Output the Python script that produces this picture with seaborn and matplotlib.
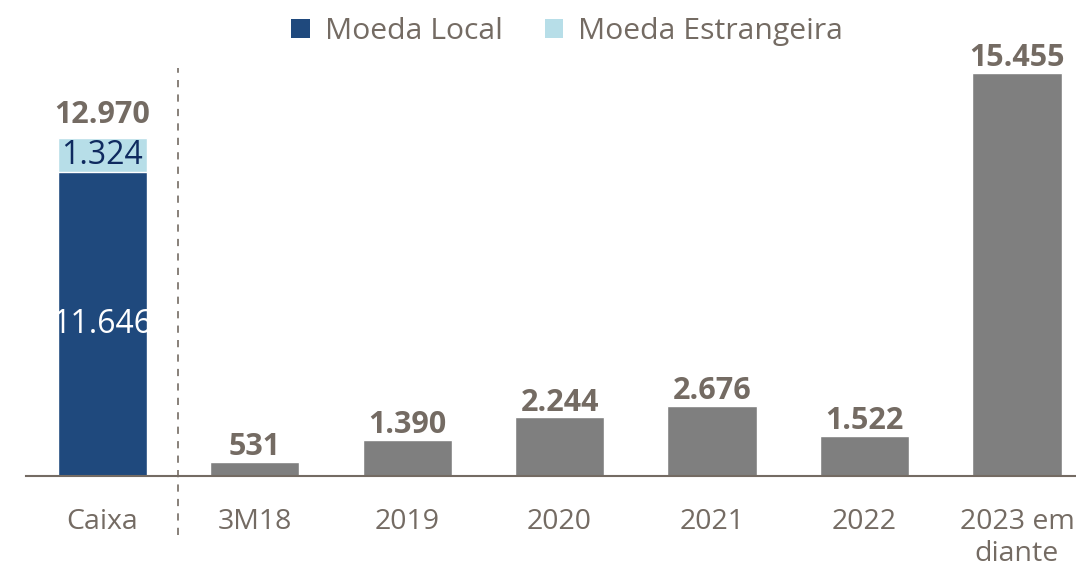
import matplotlib
matplotlib.use("Agg")
import matplotlib.pyplot as plt
from matplotlib.patches import Patch
import pandas as pd
import seaborn as sns

# dados (R$ milhões)
categorias = ["Caixa", "3M18", "2019", "2020", "2021", "2022", "2023 em\ndiante"]
totais = [12970, 531, 1390, 2244, 2676, 1522, 15455]
rotulos_totais = ["12.970", "531", "1.390", "2.244", "2.676", "1.522", "15.455"]
caixa_local = 11646
caixa_estrangeira = 1324
rotulo_local = "11.646"
rotulo_estrangeira = "1.324"
legenda = ["Moeda Local", "Moeda Estrangeira"]

AZUL = "#1F497D"
AZUL_CLARO = "#B7DEE8"
CINZA = "#7F7F7F"
TEXTO = "#746B63"

sns.set_style("white")
plt.rcParams["font.family"] = ["Open Sans", "DejaVu Sans"]

df = pd.DataFrame({"categoria": categorias, "total": totais})
df_local = pd.DataFrame({"categoria": [categorias[0]], "valor": [caixa_local]})

fig = plt.figure(figsize=(10.76, 5.68), dpi=100)
ax = fig.add_axes([26 / 1076, 92 / 568, 1050 / 1076, 476 / 568])

cores = [AZUL_CLARO] + [CINZA] * (len(categorias) - 1)
sns.barplot(data=df, x="categoria", y="total", hue="categoria", palette=cores,
            order=categorias, width=0.585, legend=False, ax=ax, saturation=1)
sns.barplot(data=df_local, x="categoria", y="valor", color=AZUL,
            order=categorias, width=0.585, ax=ax, saturation=1)

ax.set_xlim(-0.5, 6.387)
ax.set_ylim(0, 18255)
ax.set_xlabel("")
ax.set_ylabel("")
ax.set_yticks([])
for s in ["top", "right", "left"]:
    ax.spines[s].set_visible(False)
ax.spines["bottom"].set_color(TEXTO)
ax.spines["bottom"].set_linewidth(1.5)

# marcas entre categorias, rótulos no centro
n = len(categorias)
ax.set_xticks([i - 0.5 for i in range(n)])
ax.set_xticklabels([""] * n)
ax.tick_params(axis="x", which="major", length=8, width=1.3, color=TEXTO, direction="out")
ax.set_xticks(range(n), minor=True)
ax.set_xticklabels(categorias, minor=True, fontsize=20.5, color=TEXTO, linespacing=1.2)
ax.tick_params(axis="x", which="minor", length=0, pad=23)

# valores
for i, (v, txt) in enumerate(zip(totais, rotulos_totais)):
    off = 11 if i == 0 else 5
    ax.annotate(txt, (i, v), xytext=(0, off), textcoords="offset points",
                ha="center", va="baseline", fontsize=22, fontweight="bold", color=TEXTO)

ax.text(0, caixa_local / 2, rotulo_local, ha="center", va="center",
        fontsize=23, color="white")
ax.text(0, caixa_local + caixa_estrangeira / 2, rotulo_estrangeira, ha="center",
        va="center", fontsize=23, color="#0F2A5F")

# linha tracejada separando o caixa
ax.axvline(0.5, ymin=-0.124, ymax=0.857, color="#7F7770", linestyle=(0, (4, 4)),
           linewidth=1.3, clip_on=False)

handles = [Patch(facecolor=AZUL, edgecolor="none"), Patch(facecolor=AZUL_CLARO, edgecolor="none")]
fig.legend(handles, legenda, loc="center", bbox_to_anchor=(0.527, 0.945), ncol=2,
           frameon=False, fontsize=21.7, labelcolor=TEXTO, handlelength=0.6,
           handleheight=0.6, handletextpad=0.5, columnspacing=1.4)

fig.savefig("out.png", dpi=100)
